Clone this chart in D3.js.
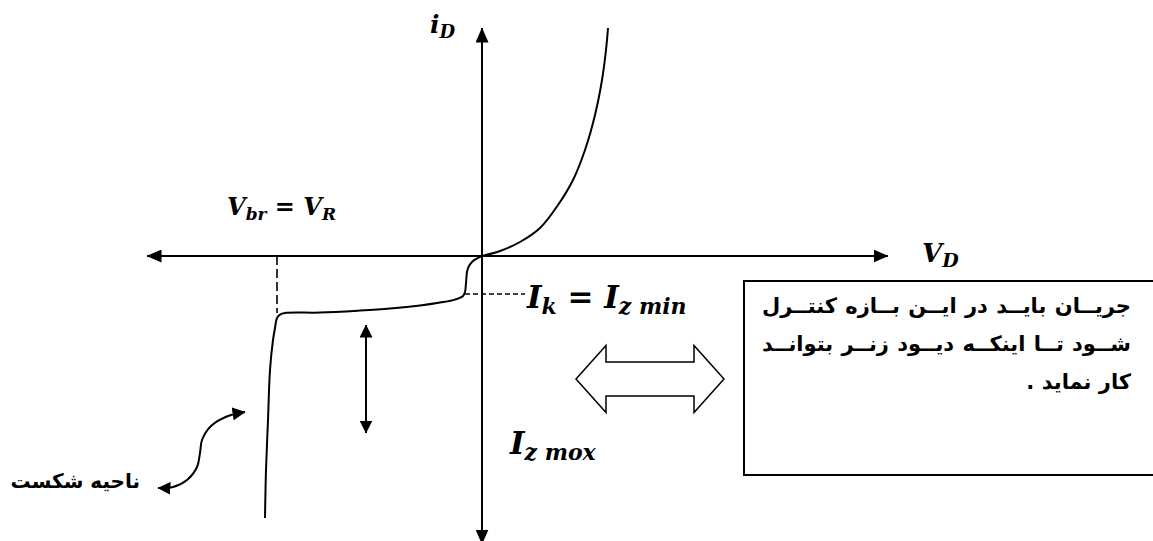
<!DOCTYPE html>
<html>
<head>
<meta charset="utf-8">
<script src="https://cdn.jsdelivr.net/npm/d3@7"></script>
<style>
  body { margin: 0; background: #fff; }
  svg { display: block; }
  .math { font-family: "DejaVu Serif", serif; font-weight: bold; font-style: italic; fill: #000; }
  .fa { font-family: "DejaVu Sans", sans-serif; font-weight: bold; fill: #000; }
</style>
</head>
<body>
<svg id="chart"></svg>
<script>
// axis extents (volts, mA)
const vRange = [-6.7, 8.12];
const iRange = [-14.25, 11.4];

// forward branch
const forwardV = [0, 0.36, 0.76, 1.16, 1.52, 1.82, 2.06, 2.26, 2.4, 2.48, 2.52];
const forwardI = [0, 0.25, 0.7, 1.4, 2.55, 3.8, 5.3, 7.05, 8.8, 10.3, 11.4];

// reverse branch + breakdown
const reverseV = [0, -0.1, -0.2, -0.27, -0.3, -0.32, -0.34, -0.38, -0.54, -0.84, -1.24, -1.84, -2.44, -3.24, -3.94, -4.04, -4.1, -4.14, -4.18, -4.24, -4.28, -4.32, -4.34];
const reverseI = [0, -0.125, -0.3, -0.55, -0.8, -1.35, -1.8, -2.0, -2.18, -2.33, -2.48, -2.63, -2.73, -2.83, -2.85, -2.93, -3.1, -3.6, -4.2, -5.7, -8.2, -10.7, -13.1];

const vBreakdown = -4.1;      // V_br = V_R
const iBreakCorner = -2.85;
const iKnee = -1.9;           // I_k = I_z min
const iKneeDashEnd = 0.86;

// range-of-current arrow (V position, I from/to)
const rangeArrowV = -2.32;
const rangeArrowI = [-3.45, -8.85];

// hollow double arrow: x stops and y half-heights
const blockArrowX = [1.88, 2.48, 4.24, 4.84];
const blockArrowY = -6.15;
const blockArrowHalf = [0.85, 1.675];

// curved pointer to breakdown region
const pointerV = [-4.74, -5.08, -5.42, -5.6, -5.64, -5.7, -5.9, -6.18, -6.48];
const pointerI = [-7.8, -8.0, -8.5, -9.2, -9.85, -10.55, -11.2, -11.55, -11.6];

const noteLines = [
  "جریــان بایــد در ایــن بــازه کنتــرل",
  "شــود تــا اینکــه دیــود زنــر بتوانــد",
  "کار نماید ."
];
const regionLabel = "ناحیه شکست";

class zenerChart {
  constructor(_config) {
    this.config = {
      parentElement: _config.parentElement,
      containerWidth: _config.containerWidth || 1153,
      containerHeight: _config.containerHeight || 541
    };
    this.initVis();
  }

  initVis() {
    let vis = this;

    vis.xScale = d3.scaleLinear().domain(vRange).range([147, 888]);
    vis.yScale = d3.scaleLinear().domain(iRange).range([541, 28]);

    vis.svg = d3.select(vis.config.parentElement)
      .attr('width', vis.config.containerWidth)
      .attr('height', vis.config.containerHeight);

    let defs = vis.svg.append('defs');
    const marker = (id, w, h) => defs.append('marker')
      .attr('id', id)
      .attr('viewBox', `0 0 ${w} ${h}`)
      .attr('markerWidth', w).attr('markerHeight', h)
      .attr('refX', w - 0.5).attr('refY', h / 2)
      .attr('markerUnits', 'userSpaceOnUse')
      .attr('orient', 'auto-start-reverse')
      .append('path')
      .attr('d', `M0,0L${w},${h / 2}L0,${h}Z`)
      .attr('fill', '#000');
    marker('axisHead', 15, 13);
    marker('smallHead', 13, 13);

    vis.chart = vis.svg.append('g');
    vis.renderVis();
  }

  renderVis() {
    let vis = this;
    const x = vis.xScale, y = vis.yScale;

    // axes
    vis.chart.append('line')
      .attr('x1', x(vRange[0])).attr('x2', x(vRange[1]))
      .attr('y1', y(0)).attr('y2', y(0))
      .attr('stroke', '#000').attr('stroke-width', 2)
      .attr('marker-start', 'url(#axisHead)')
      .attr('marker-end', 'url(#axisHead)');
    vis.chart.append('line')
      .attr('x1', x(0)).attr('x2', x(0))
      .attr('y1', y(iRange[1])).attr('y2', y(iRange[0]) + 3)
      .attr('stroke', '#000').attr('stroke-width', 2)
      .attr('marker-start', 'url(#axisHead)')
      .attr('marker-end', 'url(#axisHead)');

    // characteristic
    const line = d3.line().x(d => x(d[0])).y(d => y(d[1])).curve(d3.curveCatmullRom.alpha(0.5));
    vis.chart.append('path')
      .datum(d3.zip(forwardV, forwardI))
      .attr('d', line)
      .attr('fill', 'none').attr('stroke', '#000').attr('stroke-width', 2);
    vis.chart.append('path')
      .datum(d3.zip(reverseV, reverseI))
      .attr('d', line)
      .attr('fill', 'none').attr('stroke', '#000').attr('stroke-width', 2);

    // dashed guides
    vis.chart.append('line')
      .attr('x1', x(vBreakdown)).attr('x2', x(vBreakdown))
      .attr('y1', y(0)).attr('y2', y(iBreakCorner))
      .attr('stroke', '#000').attr('stroke-width', 1.6)
      .attr('stroke-dasharray', '9,4');
    vis.chart.append('line')
      .attr('x1', x(reverseV[6])).attr('x2', x(iKneeDashEnd))
      .attr('y1', y(iKnee)).attr('y2', y(iKnee))
      .attr('stroke', '#000').attr('stroke-width', 1.6)
      .attr('stroke-dasharray', '5,3');

    // current range arrow
    vis.chart.append('line')
      .attr('x1', x(rangeArrowV)).attr('x2', x(rangeArrowV))
      .attr('y1', y(rangeArrowI[0])).attr('y2', y(rangeArrowI[1]))
      .attr('stroke', '#000').attr('stroke-width', 2)
      .attr('marker-start', 'url(#smallHead)')
      .attr('marker-end', 'url(#smallHead)');

    // hollow double arrow
    const [xa, xb, xc, xd] = blockArrowX.map(x);
    const yc = y(blockArrowY);
    const hs = y(blockArrowY - blockArrowHalf[0]) - yc;
    const hh = y(blockArrowY - blockArrowHalf[1]) - yc;
    vis.chart.append('path')
      .attr('d', `M${xa},${yc}L${xb},${yc - hh}L${xb},${yc - hs}L${xc},${yc - hs}L${xc},${yc - hh}L${xd},${yc}L${xc},${yc + hh}L${xc},${yc + hs}L${xb},${yc + hs}L${xb},${yc + hh}Z`)
      .attr('fill', '#fff').attr('stroke', '#000').attr('stroke-width', 1.5);

    // curved pointer
    vis.chart.append('path')
      .datum(d3.zip(pointerV, pointerI))
      .attr('d', line)
      .attr('fill', 'none').attr('stroke', '#000').attr('stroke-width', 2)
      .attr('marker-start', 'url(#smallHead)')
      .attr('marker-end', 'url(#smallHead)');

    // note box
    vis.chart.append('rect')
      .attr('x', 744).attr('y', 281).attr('width', 420).attr('height', 194)
      .attr('fill', 'none').attr('stroke', '#000').attr('stroke-width', 2);

    const noteBase = [313, 351, 389];
    noteLines.forEach((t, i) => {
      let txt = vis.chart.append('text')
        .attr('class', 'fa')
        .attr('direction', 'rtl')
        .attr('text-anchor', 'start')
        .attr('x', 1131).attr('y', noteBase[i])
        .attr('font-size', 21)
        .text(t);
      if (i < 2) {
        const len = txt.node().getComputedTextLength();
        const gaps = t.split(' ').length - 1;
        const extra = Math.max(0, (369 - len) / gaps);
        txt.style('word-spacing', `${extra}px`);
      }
    });

    vis.chart.append('text')
      .attr('class', 'fa')
      .attr('direction', 'rtl')
      .attr('text-anchor', 'start')
      .attr('x', 140).attr('y', 488)
      .attr('font-size', 20)
      .text(regionLabel);

    // math labels
    const mathLabel = (px, py, size, parts) => {
      let t = vis.chart.append('text').attr('class', 'math').attr('x', px).attr('y', py);
      let shift = 0;
      parts.forEach(p => {
        const s = p[1] ? Math.round(size * 0.72) : size;
        const target = p[1] ? Math.round(size * 0.2) : 0;
        t.append('tspan').attr('font-size', s).attr('dy', target - shift).text(p[0]);
        shift = target;
      });
    };
    mathLabel(430, 33, 25, [['i', 0], ['D', 1]]);
    mathLabel(227, 215, 24, [['V', 0], ['br', 1], [' = V', 0], ['R', 1]]);
    mathLabel(922, 262, 26, [['V', 0], ['D', 1]]);
    mathLabel(527, 308, 31, [['I', 0], ['k', 1], [' = I', 0], ['z min', 1]]);
    mathLabel(510, 454, 31, [['I', 0], ['z mox', 1]]);
  }
}

new zenerChart({ parentElement: '#chart' });
</script>
</body>
</html>
